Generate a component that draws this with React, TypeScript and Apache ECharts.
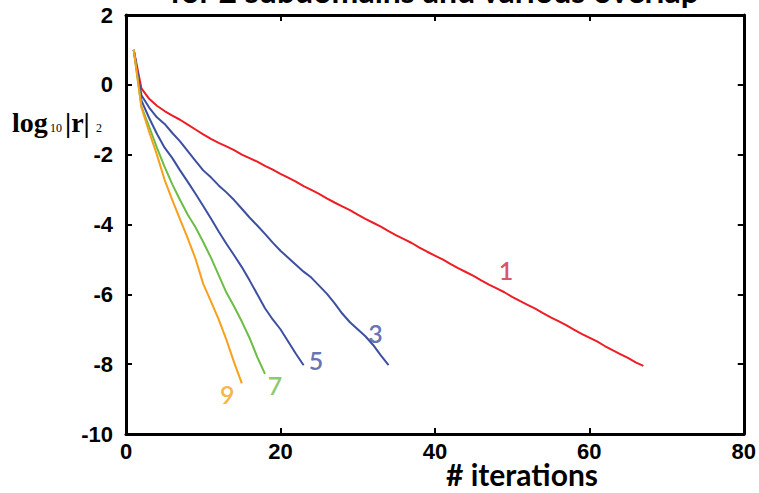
import React, { useEffect, useRef } from "react";
import * as echarts from "echarts";

// log10 ||r||_2 per iteration (iteration = index + 1)
const overlap1 = [
  1.0, -0.1, -0.4, -0.6, -0.75, -0.88, -1.0, -1.14, -1.28, -1.42,
  -1.55, -1.66, -1.76, -1.87, -2.0, -2.1, -2.2, -2.32, -2.43, -2.55,
  -2.66, -2.77, -2.9, -3.01, -3.12, -3.25, -3.37, -3.48, -3.59, -3.72,
  -3.84, -3.95, -4.06, -4.19, -4.31, -4.42, -4.53, -4.66, -4.78, -4.89,
  -5.0, -5.13, -5.25, -5.36, -5.47, -5.6, -5.72, -5.83, -5.94, -6.07,
  -6.19, -6.3, -6.41, -6.54, -6.66, -6.77, -6.88, -7.01, -7.13, -7.24,
  -7.35, -7.48, -7.6, -7.71, -7.82, -7.95, -8.05,
];
const overlap3 = [
  1.0, -0.3, -0.65, -0.93, -1.12, -1.38, -1.62, -1.9, -2.18, -2.45,
  -2.65, -2.88, -3.08, -3.3, -3.55, -3.8, -4.03, -4.27, -4.52, -4.75,
  -4.95, -5.15, -5.35, -5.52, -5.75, -5.98, -6.25, -6.55, -6.8, -7.0,
  -7.2, -7.45, -7.75, -8.03,
];
const overlap5 = [
  1.0, -0.45, -0.95, -1.4, -1.8, -2.1, -2.45, -2.78, -3.12, -3.47,
  -3.83, -4.2, -4.55, -4.88, -5.22, -5.6, -6.0, -6.4, -6.72, -7.0,
  -7.35, -7.7, -8.03,
];
const overlap7 = [
  1.0, -0.62, -1.2, -1.8, -2.35, -2.85, -3.3, -3.72, -4.08, -4.5,
  -4.95, -5.45, -5.95, -6.35, -6.78, -7.25, -7.8, -8.28,
];
const overlap9 = [
  1.0, -0.65, -1.35, -2.0, -2.72, -3.3, -3.85, -4.4, -4.98, -5.7,
  -6.2, -6.72, -7.3, -7.95, -8.55,
];

const curveValues = [overlap1, overlap3, overlap5, overlap7, overlap9];
const curveColors = ["#ee1d25", "#3d4fa1", "#3d4fa1", "#6cbd45", "#f8a01b"];

// curve annotations (overlap size) placed in data coordinates
const annotText = ["1", "3", "5", "7", "9"];
const annotX = [49.2, 32.3, 24.6, 19.3, 13.1];
const annotY = [-5.31, -7.11, -7.89, -8.6, -8.86];
const annotColors = ["#cf2a3c", "#3d4fa1", "#3d4fa1", "#6cbd45", "#f8a01b"];

const xTicks = { min: 0, max: 80, interval: 20 };
const yTicks = { min: -10, max: 2, interval: 2 };

export default function App() {
  const ref = useRef<HTMLDivElement>(null);
  useEffect(() => {
    if (!ref.current) return;
    const chart = echarts.init(ref.current, null, { renderer: "svg" });
    const axisLine = { show: true, onZero: false, lineStyle: { color: "#000", width: 3 } };
    const axisTick = { show: true, inside: true, length: 6, lineStyle: { color: "#000", width: 2 } };
    const tickFont = {
      fontFamily: "Liberation Sans, Arial, sans-serif",
      fontWeight: "bold" as const,
      fontSize: 22,
      color: "#000",
    };
    const serif = "Liberation Serif, Times New Roman, serif";
    const lineSeries = curveValues.map((vals, k) => ({
      type: "line" as const,
      data: vals.map((v, i) => [i + 1, v]),
      showSymbol: false,
      symbol: "none",
      lineStyle: { color: curveColors[k], width: 2 },
      z: 2 + k,
      silent: true,
    }));
    chart.setOption({
      animation: false,
      backgroundColor: "#fff",
      grid: { left: 126, right: 13, top: 15, bottom: 59, containLabel: false },
      xAxis: [
        {
          type: "value",
          position: "bottom",
          ...xTicks,
          axisLine,
          axisTick,
          splitLine: { show: false },
          axisLabel: { ...tickFont, margin: 6 },
        },
        {
          type: "value",
          position: "top",
          ...xTicks,
          axisLine,
          axisTick,
          splitLine: { show: false },
          axisLabel: { show: false },
        },
      ],
      yAxis: [
        {
          type: "value",
          position: "left",
          ...yTicks,
          axisLine,
          axisTick,
          splitLine: { show: false },
          axisLabel: { ...tickFont, margin: 13 },
        },
        {
          type: "value",
          position: "right",
          ...yTicks,
          axisLine,
          axisTick,
          splitLine: { show: false },
          axisLabel: { show: false },
        },
      ],
      series: [
        ...lineSeries,
        {
          type: "scatter",
          symbol: "circle",
          symbolSize: 1,
          itemStyle: { color: "transparent" },
          silent: true,
          z: 10,
          data: annotText.map((t, i) => ({
            value: [annotX[i], annotY[i]],
            name: t,
            label: {
              show: true,
              position: "inside",
              formatter: t,
              color: annotColors[i],
              fontFamily: "Lato, sans-serif",
              fontWeight: 600,
              fontSize: 25,
            },
          })),
        },
      ],
      graphic: [
        {
          type: "text",
          left: 170,
          top: -26,
          style: {
            text: "for 2 subdomains and various overlap",
            fontFamily: "Lato, sans-serif",
            fontWeight: "bold",
            fontSize: 32,
            fill: "#000",
          },
        },
        {
          type: "text",
          x: 522,
          y: 474,
          style: {
            text: "# iterations",
            fontFamily: "Lato, sans-serif",
            fontWeight: "bold",
            fontSize: 30,
            fill: "#000",
            align: "center",
            verticalAlign: "middle",
          },
        },
        {
          type: "group",
          x: 12,
          y: 0,
          children: [
            {
              type: "text",
              x: 0,
              y: 108,
              style: {
                text: "log",
                fontFamily: serif,
                fontWeight: "bold",
                fontSize: 28,
                fill: "#000",
                verticalAlign: "top",
              },
            },
            {
              type: "text",
              x: 38,
              y: 121.5,
              style: {
                text: "10",
                fontFamily: serif,
                fontSize: 12,
                fill: "#000",
                verticalAlign: "top",
              },
            },
            {
              type: "text",
              x: 53,
              y: 108,
              style: {
                text: "|r|",
                fontFamily: serif,
                fontWeight: "bold",
                fontSize: 28,
                fill: "#000",
                verticalAlign: "top",
              },
            },
            {
              type: "text",
              x: 84,
              y: 121.5,
              style: {
                text: "2",
                fontFamily: serif,
                fontSize: 12,
                fill: "#000",
                verticalAlign: "top",
              },
            },
          ],
        },
      ],
    });
    return () => chart.dispose();
  }, []);
  return <div ref={ref} style={{ width: 759, height: 493, position: "absolute", left: 0, top: 0 }} />;
}
